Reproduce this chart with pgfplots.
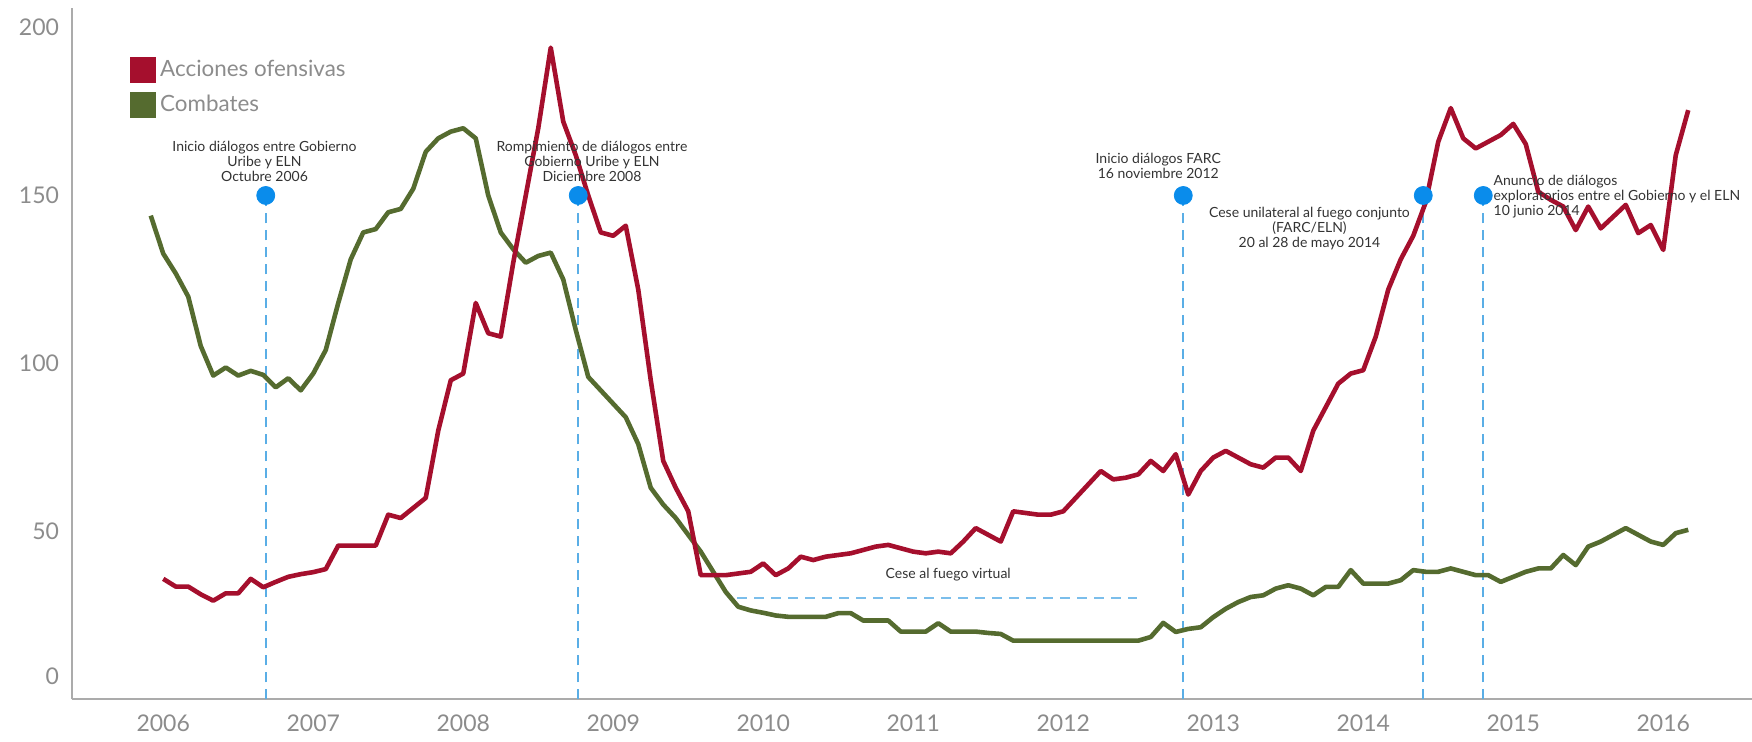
\documentclass[border=0pt]{standalone}
\usepackage{fontspec}
\setmainfont{Lato}
\usepackage{pgfplots}
\pgfplotsset{compat=1.18}
\usepackage{pgfplotstable}

\definecolor{acc}{HTML}{A50F2D}
\definecolor{comb}{HTML}{556B2F}
\definecolor{dline}{HTML}{5AAEE6}
\definecolor{dotc}{HTML}{0A8CEB}
\definecolor{lbl}{HTML}{8C8C8C}
\definecolor{ann}{HTML}{333333}

% month index m (0 = first month of 2006)
\pgfplotstableread{
m v
0 144.0
1 132.7
2 126.8
3 119.9
4 105.2
5 96.4
6 98.8
7 96.4
8 97.8
9 96.6
10 92.9
11 95.6
12 92
13 97
14 104
15 118
16 131
17 139
18 140
19 145
20 146
21 152
22 163
23 167
24 169
25 170
26 167
27 150
28 139
29 134
30 130
31 132
32 133
33 125
34 110
35 96
36 92
37 88
38 84
39 76
40 63
41 58
42 54
43 49
44 44
45 38
46 32
47 27.6
48 26.5
49 25.8
50 25
51 24.6
52 24.6
53 24.6
54 24.6
55 25.7
56 25.7
57 23.5
58 23.5
59 23.5
60 20.2
61 20.2
62 20.2
63 22.7
64 20.2
65 20.2
66 20.2
67 19.8
68 19.5
69 17.5
70 17.5
71 17.5
72 17.5
73 17.5
74 17.5
75 17.5
76 17.5
77 17.5
78 17.5
79 17.5
80 18.6
81 22.8
82 20.1
83 21
84 21.5
85 24.5
86 27
87 29
88 30.5
89 31
90 33
91 34
92 33
93 31
94 33.5
95 33.5
96 38.5
97 34.5
98 34.5
99 34.5
100 35.5
101 38.5
102 38
103 38
104 39
105 38
106 37
107 37
108 35
109 36.5
110 38
111 39
112 39
113 43
114 40
115 45.5
116 47
117 49
118 51
119 49
120 47
121 46
122 49.5
123 50.5
}\combates

\pgfplotstableread{
m v
1 35.9
2 33.6
3 33.6
4 31.3
5 29.4
6 31.6
7 31.6
8 35.9
9 33.4
10 35
11 36.5
12 37.3
13 37.9
14 38.8
15 45.8
16 45.8
17 45.8
18 45.8
19 55
20 54
21 57
22 60
23 80
24 95
25 97
26 118
27 109
28 108
29 130
30 150
31 170
32 194
33 172
34 162
35 150
36 139
37 138
38 141
39 122
40 95
41 71
42 63
43 56
44 37
45 37
46 37
47 37.5
48 38
49 40.5
50 37
51 39
52 42.5
53 41.5
54 42.5
55 43
56 43.5
57 44.5
58 45.5
59 46
60 45
61 44
62 43.5
63 44
64 43.5
65 47
66 51
67 49
68 47
69 56
70 55.5
71 55
72 55
73 56
74 60
75 64
76 68
77 65.5
78 66
79 67
80 71
81 68
82 73
83 61
84 68
85 72
86 74
87 72
88 70
89 69
90 72
91 72
92 68
93 80
94 87
95 94
96 97
97 98
98 108
99 122
100 131
101 138
102 148
103 166
104 176
105 167
106 164
107 166
108 168
109 171.3
110 165.3
111 151.1
112 148.7
113 146.7
114 139.7
115 146.7
116 140.2
117 143.7
118 147.2
119 138.8
120 141.2
121 133.8
122 162
123 175.4
}\acciones

\begin{document}
\begin{tikzpicture}
\begin{axis}[
  scale only axis,
  width=840pt, height=345.75pt,
  xmin=-6.3, xmax=128.1,
  ymin=0, ymax=205.8,
  axis x line*=bottom, axis y line*=left,
  axis line style={-, draw=black!33, line width=1pt},
  major tick length=0pt,
  xtick={1,13,25,37,49,61,73,85,97,109,121},
  xticklabels={2006,2007,2008,2009,2010,2011,2012,2013,2014,2015,2016},
  ytick={0,50,100,150,200},
  yticklabels={\raisebox{7.5pt}[0pt][0pt]{0},50,100,150,200},
  xticklabel style={font=\fontsize{11.5}{12}\selectfont, text=lbl, yshift=-4pt},
  yticklabel style={font=\fontsize{11.5}{12}\selectfont, text=lbl, xshift=-3pt},
  clip=false,
  legend style={draw=none, fill=none, at={(axis cs:-1.66,191.5)}, anchor=north west,
    inner sep=0pt, row sep=3.5pt, font=\fontsize{11.2}{13}\selectfont, text=lbl,
    /tikz/every even column/.append style={column sep=4pt}},
  legend cell align=left,
  legend image code/.code={\fill[#1] (0pt,-6.25pt) rectangle (12.5pt,6.25pt);},
]
\coordinate (bl) at (rel axis cs:0,0);
\coordinate (tr) at (rel axis cs:1,1);

\addlegendimage{acc, fill=acc}
\addlegendentry{Acciones ofensivas}
\addlegendimage{comb, fill=comb}
\addlegendentry{Combates}

% vertical event lines
\addplot[dline, line width=0.8pt, dash pattern=on 5pt off 3.5pt, forget plot] coordinates {(9.2,0) (9.2,150)};
\addplot[dline, line width=0.8pt, dash pattern=on 5pt off 3.5pt, forget plot] coordinates {(34.2,0) (34.2,150)};
\addplot[dline, line width=0.8pt, dash pattern=on 5pt off 3.5pt, forget plot] coordinates {(82.6,0) (82.6,150)};
\addplot[dline, line width=0.8pt, dash pattern=on 5pt off 3.5pt, forget plot] coordinates {(101.8,0) (101.8,150)};
\addplot[dline, line width=0.8pt, dash pattern=on 5pt off 3.5pt, forget plot] coordinates {(106.6,0) (106.6,150)};
% ceasefire horizontal
\addplot[dline!80, line width=0.8pt, dash pattern=on 5pt off 3.5pt, forget plot] coordinates {(46.9,30.2) (78.9,30.2)};

\addplot[comb, line width=2.3pt, line join=round, no markers, forget plot] table[x=m,y=v] {\combates};
\addplot[acc, line width=2.3pt, line join=round, no markers, forget plot] table[x=m,y=v] {\acciones};

\addplot[only marks, mark=*, mark size=4.5pt, dotc, mark options={draw=dotc, fill=dotc}, forget plot]
  coordinates {(9.2,150) (34.2,150) (82.6,150) (101.8,150) (106.6,150)};

\begin{scope}[every node/.style={text=ann, font=\fontsize{7}{7.5}\selectfont, inner sep=0pt}]
\node[align=center] at (axis cs:9.1,160.2) {Inicio diálogos entre Gobierno\\Uribe y ELN\\Octubre 2006};
\node[align=center] at (axis cs:35.3,160.2) {Rompimiento de diálogos entre\\Gobierno Uribe y ELN\\Diciembre 2008};
\node[align=center] at (axis cs:80.6,158.9) {Inicio diálogos FARC\\16 noviembre 2012};
\node[align=center] at (axis cs:92.7,140.3) {Cese unilateral al fuego conjunto\\(FARC/ELN)\\20 al 28 de mayo 2014};
\node[align=left, anchor=west] at (axis cs:107.4,149.6) {Anuncio de diálogos\\exploratorios entre el Gobierno y el ELN\\10 junio 2014};
\node at (axis cs:63.8,37.05) {Cese al fuego virtual};
\end{scope}
\end{axis}
\pgfresetboundingbox
\path ([xshift=-36pt,yshift=-20.85pt]bl) rectangle ([yshift=4pt]tr);
\end{tikzpicture}
\end{document}
